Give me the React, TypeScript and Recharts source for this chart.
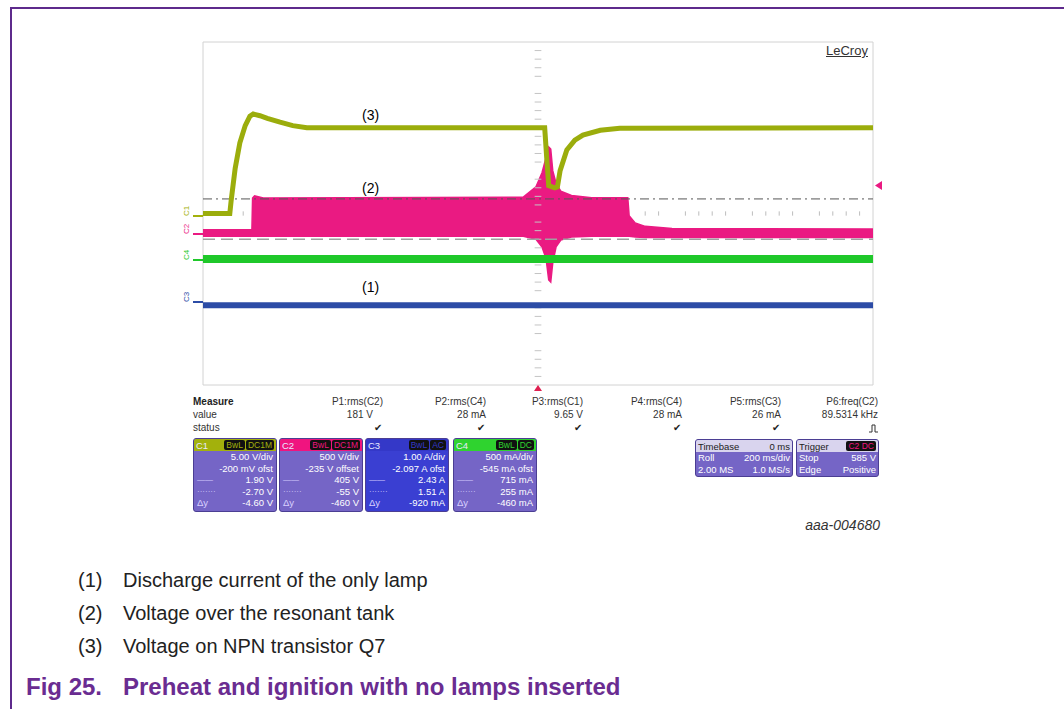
import { Area, CartesianGrid, ComposedChart, Line, ReferenceLine, XAxis, YAxis } from 'recharts'
import type { CSSProperties, ReactNode } from 'react'

const gridX = [0, 1, 2, 3, 4, 5, 6, 7, 8, 9, 10]
const gridY = [0, 1, 2, 3, 4, 5, 6, 7, 8]
const minorTicks = [0.2, 0.4, 0.6, 0.8, 1.2, 1.4, 1.6, 1.8, 2.2, 2.4, 2.6, 2.8, 3.2, 3.4, 3.6, 3.8, 4.2, 4.4, 4.6, 4.8, 5.2, 5.4, 5.6, 5.8, 6.2, 6.4, 6.6, 6.8, 7.2, 7.4, 7.6, 7.8, 8.2, 8.4, 8.6, 8.8, 9.2, 9.4, 9.6, 9.8]

// (3) C1 voltage on Q7
const c1Time = [0, 0.4, 0.42, 0.48, 0.55, 0.63, 0.7, 0.75, 0.85, 0.96, 1.15, 1.34, 1.55, 5.1, 5.13, 5.16, 5.25, 5.29, 5.33, 5.43, 5.55, 5.67, 5.93, 6.22, 10]
const c1Level = [4.0, 4.0, 4.3, 5.05, 5.65, 6.05, 6.27, 6.32, 6.28, 6.22, 6.13, 6.05, 6.0, 6.0, 5.3, 4.65, 4.6, 4.62, 5.0, 5.48, 5.71, 5.83, 5.94, 5.99, 6.0]

// (2) C2 resonant tank voltage, envelope low / high
const c2Time = [0, 0.73, 0.74, 0.77, 0.9, 4.78, 4.97, 5.06, 5.12, 5.16, 5.19, 5.22, 5.27, 5.34, 5.5, 5.8, 6.34, 6.36, 6.45, 6.6, 7.0, 10]
const c2Low = [3.47, 3.47, 3.47, 3.47, 3.47, 3.47, 3.4, 3.22, 2.95, 2.45, 2.4, 2.85, 3.22, 3.38, 3.45, 3.47, 3.47, 3.47, 3.45, 3.44, 3.44, 3.44]
const c2High = [3.62, 3.62, 4.36, 4.41, 4.36, 4.38, 4.62, 4.95, 5.3, 5.55, 5.5, 5.0, 4.7, 4.52, 4.42, 4.37, 4.37, 3.95, 3.78, 3.7, 3.65, 3.64]

// C4 and (1) C3 lamp current
const c4Time = [0, 10]
const c4Level = [2.94, 2.94]
const c3Time = [0, 10]
const c3Level = [1.86, 1.86]

// cursors
const cursorDashDot = 4.34
const cursorDashed = 3.4

const measureNames = ['P1:rms(C2)', 'P2:rms(C4)', 'P3:rms(C1)', 'P4:rms(C4)', 'P5:rms(C3)', 'P6:freq(C2)']
const measureValues = ['181 V', '28 mA', '9.65 V', '28 mA', '26 mA', '89.5314 kHz']
const measureRight = [383, 486, 583, 682, 781, 878]

const channels = [
  { name: 'C1', tags: ['BwL', 'DC1M'], head: '#a3b10c', body: '#7565c6', rows: ['5.00 V/div', '-200 mV ofst', '1.90 V', '-2.70 V', '-4.60 V'] },
  { name: 'C2', tags: ['BwL', 'DC1M'], head: '#f0147f', body: '#7565c6', rows: ['500 V/div', '-235 V offset', '405 V', '-55 V', '-460 V'] },
  { name: 'C3', tags: ['BwL', 'AC'], head: '#3438c8', body: '#3a3fd2', rows: ['1.00 A/div', '-2.097 A ofst', '2.43 A', '1.51 A', '-920 mA'] },
  { name: 'C4', tags: ['BwL', 'DC'], head: '#2fd32f', body: '#7565c6', rows: ['500 mA/div', '-545 mA ofst', '715 mA', '255 mA', '-460 mA'] },
]
const channelLeft = [193, 279, 365, 453]

const legendItems = ['Discharge current of the only lamp', 'Voltage over the resonant tank', 'Voltage on NPN transistor Q7']

const c1Data = c1Time.map((t, i) => ({ t, v: c1Level[i] }))
const c2Data = c2Time.map((t, i) => ({ t, v: [c2Low[i], c2High[i]] }))
const c4Data = c4Time.map((t, i) => ({ t, v: c4Level[i] }))
const c3Data = c3Time.map((t, i) => ({ t, v: c3Level[i] }))

const FONT = '"Liberation Sans", Arial, sans-serif'

function T({ x, y, children, style }: { x: number; y: number; children: ReactNode; style?: CSSProperties }) {
  return (
    <div style={{ position: 'absolute', left: x, top: y, whiteSpace: 'nowrap', fontFamily: FONT, lineHeight: 1, ...style }}>
      {children}
    </div>
  )
}

function RightT({ r, y, children, style }: { r: number; y: number; children: ReactNode; style?: CSSProperties }) {
  return (
    <div style={{ position: 'absolute', right: 1064 - r, top: y, whiteSpace: 'nowrap', fontFamily: FONT, lineHeight: 1, textAlign: 'right', ...style }}>
      {children}
    </div>
  )
}

function ChannelBox({ ch, left }: { ch: (typeof channels)[number]; left: number }) {
  return (
    <div style={{ position: 'absolute', left, top: 438, width: 84, height: 74, background: ch.body, border: '1px solid #4b3e93', borderRadius: 3, boxSizing: 'border-box', fontFamily: FONT, fontSize: 9.5, color: '#fff', overflow: 'hidden' }}>
      <div style={{ height: 12, background: ch.head, display: 'flex', alignItems: 'center', padding: '0 2px', color: '#e8e8ff' }}>
        <span style={{ flex: 1 }}>{ch.name}</span>
        {ch.tags.map((tag) => (
          <span key={tag} style={{ background: '#111', color: ch.head, padding: '0 2px', marginLeft: 1, fontSize: 8.5, borderRadius: 2, lineHeight: '10px' }}>{tag}</span>
        ))}
      </div>
      {ch.rows.map((row, i) => (
        <div key={i} style={{ position: 'relative', height: 11.5, lineHeight: '11.5px', textAlign: 'right', paddingRight: 3 }}>
          {i >= 2 && (
            <span style={{ position: 'absolute', left: 3, color: '#d8d0ff', fontSize: i === 4 ? 9.5 : 8 }}>
              {i === 2 ? '——' : i === 3 ? '·······' : 'Δy'}
            </span>
          )}
          {row}
        </div>
      ))}
    </div>
  )
}

function InfoBox({ left, width, head, headRight, rows }: { left: number; width: number; head: string; headRight: ReactNode; rows: string[][] }) {
  return (
    <div style={{ position: 'absolute', left, top: 439, width, height: 38, background: '#7565c6', border: '1px solid #4b3e93', borderRadius: 3, boxSizing: 'border-box', fontFamily: FONT, fontSize: 9.5, color: '#fff', overflow: 'hidden' }}>
      <div style={{ height: 12, background: '#d9d4ee', color: '#222', display: 'flex', alignItems: 'center', padding: '0 2px' }}>
        <span style={{ flex: 1 }}>{head}</span>
        {headRight}
      </div>
      {rows.map((r, i) => (
        <div key={i} style={{ display: 'flex', height: 12, lineHeight: '12px', padding: '0 2px' }}>
          <span style={{ flex: 1 }}>{r[0]}</span>
          <span>{r[1]}</span>
        </div>
      ))}
    </div>
  )
}

export default function App() {
  return (
    <div style={{ position: 'absolute', left: 0, top: 0, width: 1064, height: 709, background: '#fff', overflow: 'hidden' }}>
      {/* document frame */}
      <div style={{ position: 'absolute', left: 10, top: 7, width: 1064, height: 2, background: '#5e2a8c' }} />
      <div style={{ position: 'absolute', left: 10, top: 7, width: 2, height: 709, background: '#5e2a8c' }} />

      <div style={{ position: 'absolute', left: 0, top: 0 }}>
        <ComposedChart width={1064} height={709} margin={{ top: 42, right: 191, bottom: 324, left: 203 }}>
          <CartesianGrid stroke="#d2d2d2" strokeWidth={1} />
          <XAxis type="number" dataKey="t" domain={[0, 10]} ticks={gridX} tick={false} tickLine={false} axisLine={false} height={0} allowDataOverflow />
          <YAxis type="number" domain={[0, 8]} ticks={gridY} tick={false} tickLine={false} axisLine={false} width={0} allowDataOverflow />
          {minorTicks.filter((m) => m < 0.7 || m > 6.4).map((m) => (
            <ReferenceLine key={'h' + m} segment={[{ x: m, y: 3.95 }, { x: m, y: 4.05 }]} stroke="#bdbdbd" />
          ))}
          {minorTicks.filter((m) => m < 8).map((m) => (
            <ReferenceLine key={'v' + m} segment={[{ x: 4.95, y: m }, { x: 5.05, y: m }]} stroke="#c4c4c4" />
          ))}
          <ReferenceLine y={cursorDashDot} stroke="#555" strokeDasharray="9 4 2 4" />
          <ReferenceLine y={cursorDashed} stroke="#a0a0a0" strokeWidth={1.5} strokeDasharray="12 6" />
          <Line data={c3Data} dataKey="v" type="linear" stroke="#2c4ca6" strokeWidth={6} dot={false} isAnimationActive={false} />
          <Line data={c4Data} dataKey="v" type="linear" stroke="#1fc82a" strokeWidth={8} dot={false} isAnimationActive={false} />
          <Area data={c2Data} dataKey="v" type="linear" stroke="#ea1a82" strokeWidth={1.5} fill="#ea1a82" fillOpacity={1} dot={false} isAnimationActive={false} />
          <Line data={c1Data} dataKey="v" type="linear" stroke="#9bad0c" strokeWidth={5} dot={false} isAnimationActive={false} />
        </ComposedChart>
      </div>

      {/* trace labels */}
      <T x={362} y={108} style={{ fontSize: 14 }}>(3)</T>
      <T x={362} y={181} style={{ fontSize: 14 }}>(2)</T>
      <T x={362} y={280} style={{ fontSize: 14 }}>(1)</T>
      <T x={826} y={44} style={{ fontSize: 13, color: '#333', textDecoration: 'underline' }}>LeCroy</T>

      {/* channel markers at the left edge */}
      {[
        { n: 'C1', y: 213, c: '#a3b10c' },
        { n: 'C2', y: 231, c: '#ea1a82' },
        { n: 'C4', y: 257, c: '#1fc82a' },
        { n: 'C3', y: 299, c: '#2c4ca6' },
      ].map((m) => (
        <div key={m.n}>
          <T x={182} y={m.y - 6} style={{ fontSize: 8, color: m.c, transform: 'rotate(-90deg)', transformOrigin: 'center' }}>{m.n}</T>
          <div style={{ position: 'absolute', left: 193, top: m.y + 2, width: 10, height: 2, background: m.c }} />
        </div>
      ))}
      <svg style={{ position: 'absolute', left: 0, top: 0 }} width={1064} height={709}>
        <polygon points="882,181 882,190 875,185.5" fill="#ea1a82" />
        <polygon points="534,391 542,391 538,385" fill="#e02050" />
      </svg>

      {/* measure table */}
      <T x={193} y={397} style={{ fontSize: 10, fontWeight: 'bold', color: '#222' }}>Measure</T>
      <T x={193} y={410} style={{ fontSize: 10, color: '#333' }}>value</T>
      <T x={193} y={423} style={{ fontSize: 10, color: '#333' }}>status</T>
      {measureNames.map((name, i) => (
        <div key={name}>
          <RightT r={measureRight[i]} y={397} style={{ fontSize: 10, color: '#333' }}>{name}</RightT>
          <RightT r={i === 0 ? 373 : measureRight[i]} y={410} style={{ fontSize: 10, color: '#333' }}>{measureValues[i]}</RightT>
          {i < 5 ? (
            <RightT r={measureRight[i] - 1} y={423} style={{ fontSize: 10, color: '#222' }}>✔</RightT>
          ) : (
            <svg style={{ position: 'absolute', left: measureRight[i] - 9, top: 424 }} width={9} height={9}>
              <path d="M0,8 H3 V1 H6 V8 H9" fill="none" stroke="#333" strokeWidth={1} />
            </svg>
          )}
        </div>
      ))}

      {channels.map((ch, i) => (
        <ChannelBox key={ch.name} ch={ch} left={channelLeft[i]} />
      ))}
      <InfoBox left={695} width={98} head="Timebase" headRight={<span>0 ms</span>} rows={[['Roll', '200 ms/div'], ['2.00 MS', '1.0 MS/s']]} />
      <InfoBox
        left={796}
        width={83}
        head="Trigger"
        headRight={<span style={{ background: '#111', color: '#f0147f', padding: '0 2px', borderRadius: 2, fontSize: 8.5 }}>C2 DC</span>}
        rows={[['Stop', '585 V'], ['Edge', 'Positive']]}
      />

      <RightT r={880} y={518} style={{ fontSize: 14, fontStyle: 'italic', color: '#333' }}>aaa-004680</RightT>

      {/* legend and caption */}
      {legendItems.map((text, i) => (
        <div key={text}>
          <T x={78} y={570 + i * 33} style={{ fontSize: 20, color: '#222' }}>({i + 1})</T>
          <T x={123} y={570 + i * 33} style={{ fontSize: 20, color: '#222' }}>{text}</T>
        </div>
      ))}
      <T x={26} y={675} style={{ fontSize: 24, fontWeight: 'bold', color: '#6a2c91' }}>Fig 25.</T>
      <T x={123} y={675} style={{ fontSize: 24, fontWeight: 'bold', color: '#6a2c91' }}>Preheat and ignition with no lamps inserted</T>
    </div>
  )
}
